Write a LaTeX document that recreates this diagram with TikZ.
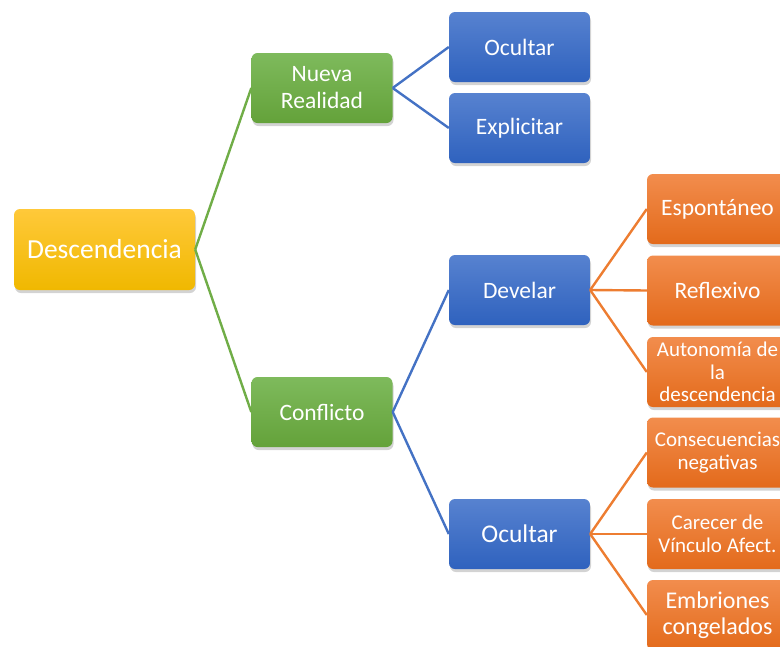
\documentclass[tikz,border=0pt]{standalone}
\usepackage{fontspec}
\setmainfont{Carlito}
\usetikzlibrary{shadows,shadings}
\definecolor{ylT}{HTML}{FFC93A}
\definecolor{ylB}{HTML}{F0B800}
\definecolor{grT}{HTML}{7EBA5C}
\definecolor{grB}{HTML}{64A23A}
\definecolor{blT}{HTML}{5782D0}
\definecolor{blB}{HTML}{2F62BE}
\definecolor{orT}{HTML}{F28D4D}
\definecolor{orB}{HTML}{E36A1B}
\definecolor{grL}{HTML}{70AD47}
\definecolor{blL}{HTML}{4472C4}
\definecolor{orL}{HTML}{ED7D31}
\tikzset{
  box/.style={rectangle, rounded corners=6pt, minimum width=141pt, minimum height=70pt,
    inner sep=0pt, align=center, text=white, font=\fontsize{23.5}{27}\selectfont,
    drop shadow={opacity=0.35, shadow xshift=1pt, shadow yshift=-3pt}},
  ybox/.style={box, top color=ylT, bottom color=ylB, minimum width=181pt, minimum height=81pt,
    font=\fontsize{27.5}{31}\selectfont},
  gbox/.style={box, top color=grT, bottom color=grB},
  bbox/.style={box, top color=blT, bottom color=blB},
  obox/.style={box, top color=orT, bottom color=orB},
  small/.style={font=\fontsize{21}{22.5}\selectfont},
  gline/.style={draw=grL, line width=2.4pt},
  bline/.style={draw=blL, line width=2.4pt},
  oline/.style={draw=orL, line width=2.4pt},
}
\begin{document}
\begin{tikzpicture}[x=1pt,y=-1pt]
\useasboundingbox (0,0) rectangle (780,646);
\clip (0,0) rectangle (780,646);
\node[ybox] (d) at (104.5,249.5) {Descendencia};
\node[gbox] (nr) at (322,88) {Nueva\\Realidad};
\node[gbox] (cf) at (322,412) {Conflicto};
\node[bbox] (o1) at (519.5,47) {Ocultar};
\node[bbox] (ex) at (519.5,128) {Explicitar};
\node[bbox] (dv) at (519.5,290) {Develar};
\node[bbox, font=\fontsize{25.5}{29}\selectfont] (o2) at (519.5,534) {Ocultar};
\node[obox] (esp) at (717.5,209) {Espontáneo};
\node[obox] (ref) at (717.5,290.5) {Reflexivo};
\node[obox, small] (aut) at (717.5,372) {Autonomía de\\la\\descendencia};
\node[obox, small] (con) at (717.5,452.5) {Consecuencias\\negativas};
\node[obox, small] (car) at (717.5,534) {Carecer de\\Vínculo Afect.};
\node[obox, font=\fontsize{24}{26}\selectfont] (emb) at (717.5,615) {Embriones\\congelados};
\draw[gline] (d.east) -- (nr.west);
\draw[gline] (d.east) -- (cf.west);
\draw[bline] (nr.east) -- (o1.west);
\draw[bline] (nr.east) -- (ex.west);
\draw[bline] (cf.east) -- (dv.west);
\draw[bline] (cf.east) -- (o2.west);
\draw[oline] (dv.east) -- (esp.west);
\draw[oline] (dv.east) -- (ref.west);
\draw[oline] (dv.east) -- (aut.west);
\draw[oline] (o2.east) -- (con.west);
\draw[oline] (o2.east) -- (car.west);
\draw[oline] (o2.east) -- (emb.west);
\end{tikzpicture}
\end{document}
